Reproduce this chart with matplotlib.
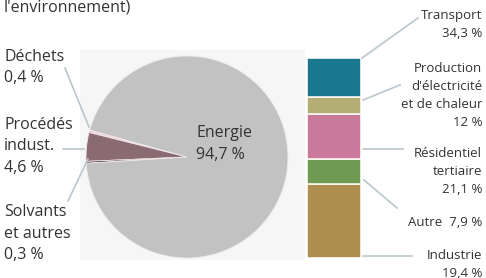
import matplotlib.pyplot as plt
from matplotlib.patches import Rectangle

# ---- data ----
pie_labels = ["Déchets", "Procédés indust.", "Solvants et autres", "Energie"]
pie_values = [0.4, 4.6, 0.3, 94.7]
pie_colors = ["#efd3da", "#8a6b73", "#3a2b30", "#c2c2c2"]

sector_names = ["Industrie", "Autre", "Résidentiel tertiaire",
                "Production d'électricité et de chaleur", "Transport"]
sector_shares = [19.4, 7.9, 21.1, 12, 34.3]
# share of the bar height as drawn in the picture
sector_drawn = [37, 12.5, 22.5, 8.5, 19.5]
sector_colors = ["#ae8f4f", "#6e9a53", "#c97a9b", "#b2ae74", "#19788f"]

W, H = 486, 278
fig = plt.figure(figsize=(W / 100, H / 100), dpi=100)
ax = fig.add_axes([0, 0, 1, 1])

def py(y):
    # picture row -> data y
    return H - y

font = "Open Sans"
line_col = "#b9c7cd"
txt_col = "#333333"

def label(x, y, lines, step, size, ha):
    # one text per line, baselines every `step` pixels
    for i, s in enumerate(lines):
        ax.text(x, py(y + i * step), s, fontsize=size, family=font,
                color=txt_col, ha=ha, va="baseline")

# faint panel behind the pie
ax.add_patch(Rectangle((80, py(260)), 225, 210, facecolor="#f6f6f6",
                       edgecolor="none", zorder=0))

ax.pie(pie_values, colors=pie_colors, startangle=164.5, counterclock=True,
       center=(187, py(157)), radius=101,
       wedgeprops=dict(linewidth=0.6, edgecolor="#f2e8ea"))
ax.set_xlim(0, W)
ax.set_ylim(0, H)
ax.set_aspect("equal")
ax.axis("off")

label(196, 137, ["Energie", "94,7 %"], 22, 11.5, "left")

# left labels
label(4, 11, ["l'environnement)"], 22, 11.5, "left")
label(4, 61, ["Déchets", "0,4 %"], 21.5, 11.5, "left")
label(4, 129, ["Procédés", "indust.", "4,6 %"], 21.5, 11.5, "left")
label(4, 216, ["Solvants", "et autres", "0,3 %"], 21.5, 11.5, "left")

ax.plot([65, 89], [py(68), py(127)], color=line_col, lw=1.2)
ax.plot([63, 84], [py(149), py(149)], color=line_col, lw=1.2)
ax.plot([68, 88], [py(201), py(159)], color=line_col, lw=1.2)

# stacked bar
axb = fig.add_axes([307 / W, 20 / H, 54 / W, 200 / H])
bottom = 0
for h, c in zip(sector_drawn, sector_colors):
    axb.bar(0, h, width=1, bottom=bottom, color=c, edgecolor="#fbf8ee",
            linewidth=1.2)
    bottom += h
axb.set_xlim(-0.5, 0.5)
axb.set_ylim(0, 100)
axb.axis("off")

# right labels
def pct(v):
    return f"{v:g}".replace(".", ",") + " %"

rx = 482
label(rx, 19, ["Transport", pct(sector_shares[4])], 18, 9.5, "right")
label(rx, 72, ["Production", "d'électricité", "et de chaleur",
               pct(sector_shares[3])], 18, 9.5, "right")
label(rx, 157, ["Résidentiel", "tertiaire", pct(sector_shares[2])], 18, 9.5, "right")
label(rx, 226, ["Autre  " + pct(sector_shares[1])], 18, 9.5, "right")
label(rx, 259, ["Industrie", pct(sector_shares[0])], 18, 9.5, "right")

ax.plot([362, 418], [py(58), py(18)], color=line_col, lw=1.2)
ax.plot([363, 400], [py(100), py(85)], color=line_col, lw=1.2)
ax.plot([363, 403], [py(149), py(149)], color=line_col, lw=1.2)
ax.plot([364, 397], [py(180), py(208)], color=line_col, lw=1.2)
ax.plot([363, 412], [py(256), py(256)], color=line_col, lw=1.2)

fig.savefig("out.png", dpi=100)
